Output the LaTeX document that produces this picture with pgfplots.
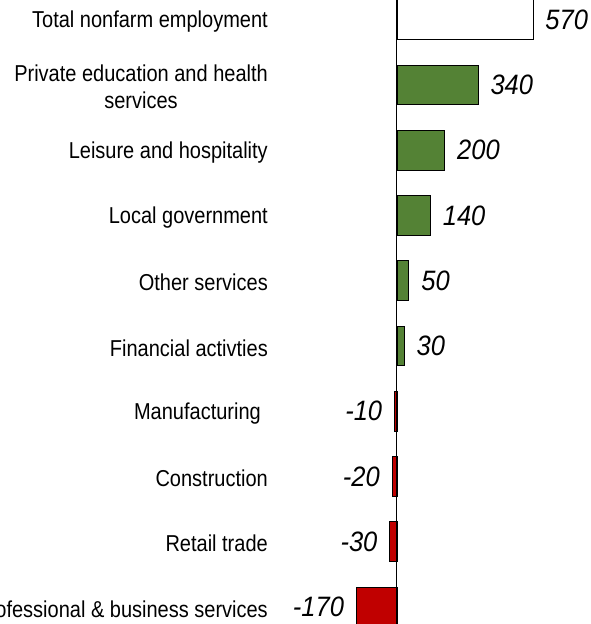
\documentclass[border=0pt]{standalone}
\usepackage{pgfplots}
\pgfplotsset{compat=1.18}
\usepackage{fontspec}
\setmainfont{Liberation Sans}

\definecolor{barGreen}{RGB}{84,130,53}
\definecolor{barRed}{RGB}{192,0,0}

\begin{document}
\begin{tikzpicture}
% the reference is cropped on all sides: keep the page at 590x624
\path[use as bounding box, clip] (0,0) rectangle (590pt,624pt);
\begin{axis}[
    at={(429pt,312pt)}, anchor=center,
    scale only axis,
    width=322pt, height=624pt,
    xmin=-540.6, xmax=808.9,
    ymin=-0.302, ymax=9.261,
    y dir=reverse,
    hide x axis,
    y axis line style={draw=none},
    major tick length=0pt,
    ytick={0,...,9},
    yticklabels={
        Total nonfarm employment,
        {Private education and health\\services},
        Leisure and hospitality,
        Local government,
        Other services,
        Financial activties,
        Manufacturing\hspace{7pt},
        Construction,
        Retail trade,
        Professional \& business services},
    yticklabel style={font=\fontsize{20}{23}\selectfont, align=center,
        inner sep=0pt, anchor=east, yshift=-2pt, yscale=1.15},
    xbar, bar width=0.61, bar shift=0pt,
    /pgf/number format/assume math mode=true,
    nodes near coords,
    every node near coord/.append style={
        font=\fontsize{25.5}{25.5}\selectfont\itshape, inner sep=0pt,
        yscale=1.1, text=black},
]
% total
\addplot[draw=black, fill=white, line width=0.9pt,
    every node near coord/.append style={anchor=west, xshift=12pt}]
    coordinates {(570,0)};
% gains
\addplot[draw=black, fill=barGreen, line width=0.9pt,
    every node near coord/.append style={anchor=west, xshift=12pt}]
    coordinates {(340,1) (200,2) (140,3) (50,4) (30,5)};
% losses
\addplot[draw=black, fill=barRed, line width=0.9pt,
    every node near coord/.append style={anchor=east, xshift=-12pt}]
    coordinates {(-10,6) (-20,7) (-30,8) (-170,9)};
% zero line
\addplot[black, line width=1pt, forget plot, nodes near coords={}, sharp plot]
    coordinates {(0,-1) (0,10)};
\end{axis}
\end{tikzpicture}
\end{document}
